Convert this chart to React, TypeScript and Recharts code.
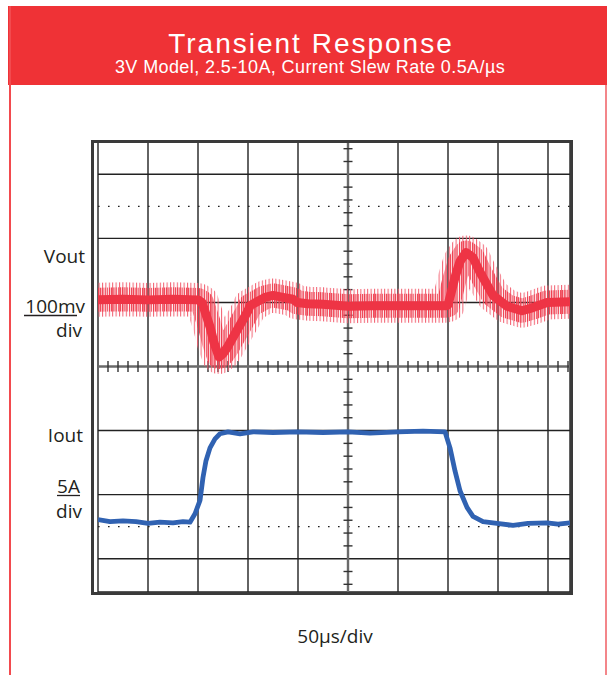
import React from 'react';
import { ComposedChart, Line, XAxis, YAxis, ReferenceLine, CartesianGrid } from 'recharts';

// Time in microseconds (50 µs per division), values in screen divisions
const voutTime = [0, 25, 50, 75, 100, 104, 112, 116, 121, 125, 129, 137, 145, 150, 152, 159, 167, 175, 185, 195, 199, 210, 225, 250, 275, 300, 325, 348, 350, 357, 362, 368, 375, 382, 395, 409, 424, 435, 449, 472];
const voutDiv = [1.04, 1.05, 1.04, 1.05, 1.04, 1.0, 0.62, 0.37, 0.15, 0.2, 0.29, 0.51, 0.73, 0.87, 0.95, 1.01, 1.08, 1.11, 1.08, 1.05, 1.0, 0.98, 0.97, 0.94, 0.95, 0.95, 0.95, 0.95, 0.96, 1.39, 1.64, 1.78, 1.7, 1.47, 1.11, 0.94, 0.87, 0.92, 1.0, 1.01];

const ioutTime = [0, 12, 25, 38, 50, 62, 75, 85, 92, 97, 102, 105, 108, 112, 117, 122, 130, 142, 155, 175, 200, 225, 250, 272, 300, 325, 347, 352, 357, 362, 369, 375, 385, 399, 415, 430, 449, 460, 472];
const ioutDiv = [-2.39, -2.42, -2.41, -2.42, -2.45, -2.43, -2.44, -2.42, -2.43, -2.3, -2.09, -1.73, -1.47, -1.27, -1.13, -1.05, -1.02, -1.05, -1.02, -1.03, -1.02, -1.03, -1.02, -1.04, -1.02, -1.01, -1.02, -1.27, -1.63, -1.94, -2.2, -2.34, -2.42, -2.45, -2.48, -2.45, -2.44, -2.46, -2.44];

const gridX = [0, 50, 100, 150, 200, 300, 350, 400, 450];
const gridY = [-3, -2, -1, 1, 2, 3];
const dottedY = [2.5, -2.5];
const centerX = 250;
const centerY = 0;

const xMinorTicks: number[] = [];
for (let t = 10; t < 472; t += 10) if (t % 50 !== 0) xMinorTicks.push(t);
const yMinorTicks: number[] = [];
for (let i = -17; i <= 17; i++) if (i % 5 !== 0) yMinorTicks.push(i / 5);

const titleText = 'Transient Response';
const subtitleText = '3V Model, 2.5-10A, Current Slew Rate 0.5A/\u00b5s';
const voutLabels = ['Vout', '100mv', 'div'];
const ioutLabels = ['Iout', '5A', 'div'];
const timeLabel = '50\u00b5s/div';

const voutData = voutTime.map((t, i) => ({ t, v: voutDiv[i] }));
const ioutData = ioutTime.map((t, i) => ({ t, v: ioutDiv[i] }));

const RED = '#ef3236';
const TRACE_RED = '#ee3445';
const BLUE = '#3062b2';
const GRID = '#222';
const AXIS = '#6a6a6a';
const TEXT = '#231f20';

export default function App() {
  const labelFont = '"Open Sans", "DejaVu Sans", sans-serif';
  return (
    <div style={{ position: 'absolute', left: 0, top: 0, width: 607, height: 675, background: '#fff', overflow: 'hidden' }}>
      <svg width={0} height={0} style={{ position: 'absolute' }}>
        <defs>
          <pattern id="noiseOuter" patternUnits="userSpaceOnUse" x={0} y={0} width={3.4} height={8}>
            <rect x={0} y={0} width={1} height={8} fill="#f25f70" />
          </pattern>
          <pattern id="noiseMid" patternUnits="userSpaceOnUse" x={1.2} y={0} width={2.2} height={8}>
            <rect x={0} y={0} width={1.1} height={8} fill="#ee3a4b" />
          </pattern>
        </defs>
      </svg>
      {/* header band */}
      <div style={{ position: 'absolute', left: 8, top: 6, width: 599, height: 79, background: RED }} />
      <div style={{ position: 'absolute', left: 9, top: 6, width: 2, height: 669, background: '#f24a4e' }} />
      <div style={{ position: 'absolute', left: 605, top: 85, width: 2, height: 590, background: '#f3868a' }} />

      <div style={{ position: 'absolute', left: 0, top: 0 }}>
        <ComposedChart width={607} height={675} margin={{ left: 98, right: 37, top: 141, bottom: 83 }}>
          <XAxis type="number" dataKey="t" domain={[0, 472]} ticks={gridX} hide allowDataOverflow />
          <YAxis type="number" dataKey="v" domain={[-3.52, 3.52]} ticks={gridY} hide allowDataOverflow />
          <CartesianGrid stroke={GRID} strokeWidth={1.4} />
          {dottedY.map((y) => (
            <ReferenceLine key={'d' + y} y={y} stroke="#222" strokeWidth={1.3} strokeDasharray="1.6 8.4" />
          ))}
          <ReferenceLine y={centerY} stroke={AXIS} strokeWidth={2.4} />
          <ReferenceLine x={centerX} stroke={AXIS} strokeWidth={2.4} />
          {xMinorTicks.map((t) => (
            <ReferenceLine key={'xt' + t} segment={[{ x: t, y: -0.085 }, { x: t, y: 0.085 }]} stroke="#333" strokeWidth={1.4} />
          ))}
          {yMinorTicks.map((v) => (
            <ReferenceLine key={'yt' + v} segment={[{ x: centerX - 4.5, y: v }, { x: centerX + 4.5, y: v }]} stroke="#333" strokeWidth={1.4} />
          ))}
          <Line data={voutData} dataKey="v" type="linear" stroke="url(#noiseOuter)" strokeWidth={34} strokeLinejoin="round" dot={false} isAnimationActive={false} />
          <Line data={voutData} dataKey="v" type="linear" stroke="url(#noiseMid)" strokeWidth={24} strokeLinejoin="round" dot={false} isAnimationActive={false} />
          <Line data={voutData} dataKey="v" type="linear" stroke={TRACE_RED} strokeWidth={9} strokeLinejoin="round" dot={false} isAnimationActive={false} />
          <Line data={ioutData} dataKey="v" type="linear" stroke={BLUE} strokeWidth={4.8} strokeLinejoin="round" dot={false} isAnimationActive={false} />
        </ComposedChart>
      </div>

      {/* scope frame */}
      <div style={{ position: 'absolute', left: 91, top: 140, width: 476, height: 449, border: '3px solid #3a3a3a', pointerEvents: 'none' }} />

      <svg width={607} height={675} style={{ position: 'absolute', left: 0, top: 0, pointerEvents: 'none' }}>
        <text x={311} y={53} textAnchor="middle" fill="#fff" fontFamily='"Liberation Sans", Arial, sans-serif' fontSize={28} letterSpacing={2}>{titleText}</text>
        <text x={310} y={73} textAnchor="middle" fill="#fff" fontFamily='"Liberation Sans", Arial, sans-serif' fontSize={18} letterSpacing={0.4}>{subtitleText}</text>

        <text x={85} y={263} textAnchor="end" fill={TEXT} fontFamily={labelFont} fontSize={19}>{voutLabels[0]}</text>
        <text x={85} y={313} textAnchor="end" fill={TEXT} fontFamily={labelFont} fontSize={19}>{voutLabels[1]}</text>
        <line x1={24} x2={77} y1={315.5} y2={315.5} stroke={TEXT} strokeWidth={1.3} />
        <text x={82} y={337} textAnchor="end" fill={TEXT} fontFamily={labelFont} fontSize={19}>{voutLabels[2]}</text>

        <text x={83} y={442} textAnchor="end" fill={TEXT} fontFamily={labelFont} fontSize={19}>{ioutLabels[0]}</text>
        <text x={80} y={493} textAnchor="end" fill={TEXT} fontFamily={labelFont} fontSize={19}>{ioutLabels[1]}</text>
        <line x1={57} x2={80} y1={495.5} y2={495.5} stroke={TEXT} strokeWidth={1.3} />
        <text x={82} y={518} textAnchor="end" fill={TEXT} fontFamily={labelFont} fontSize={19}>{ioutLabels[2]}</text>

        <text x={335} y={643} textAnchor="middle" fill={TEXT} fontFamily={labelFont} fontSize={19}>{timeLabel}</text>
      </svg>
    </div>
  );
}
